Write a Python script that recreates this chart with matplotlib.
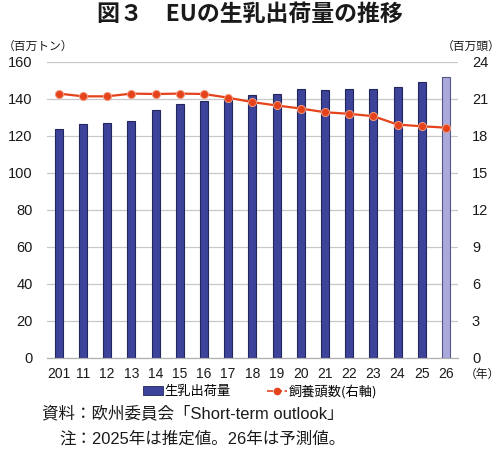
import matplotlib
matplotlib.use("Agg")
import matplotlib.pyplot as plt
from matplotlib.patches import Patch
from matplotlib.lines import Line2D

years = ["201", "11", "12", "13", "14", "15", "16", "17", "18", "19", "20",
         "21", "22", "23", "24", "25", "26"]
milk = [123.4, 126.4, 127.1, 127.8, 133.8, 137.3, 138.5, 140.5, 142.2, 142.7,
        145.0, 144.6, 145.0, 145.0, 146.4, 149.1, 151.5]
herd = [21.41, 21.19, 21.19, 21.41, 21.38, 21.41, 21.38, 21.08, 20.72, 20.45,
        20.20, 19.90, 19.77, 19.58, 18.90, 18.76, 18.65]
left_ticks = [0, 20, 40, 60, 80, 100, 120, 140, 160]
right_ticks = [0, 3, 6, 9, 12, 15, 18, 21, 24]

JP = ["Noto Sans CJK JP", "DejaVu Sans"]
MIX = ["Liberation Sans", "Noto Sans CJK JP", "DejaVu Sans"]
NUM = ["Liberation Sans", "DejaVu Sans"]
NAVY = "#3d4398"
EDGE = "#23265e"
LIGHT = "#a9a9dc"
RED = "#e5431b"
TXT = "#1a1a1a"

fig = plt.figure(figsize=(5.0, 4.51), dpi=100)
ax = fig.add_axes([0.0934, 0.2073, 0.8226, 0.6559])
ax2 = ax.twinx()

x = list(range(len(years)))
colors = [NAVY] * (len(years) - 1) + [LIGHT]
bars = ax.bar(x, milk, width=0.33, color=colors, edgecolor=EDGE, linewidth=0.8, zorder=2)
bars[-1].set_edgecolor("#8585bd")
bars[-1].set_hatch(":")
bars[-1].set_linewidth(0)
# outline for the forecast bar
ax.bar(x[-1:], milk[-1:], width=0.33, facecolor="none", edgecolor="#555588",
       linewidth=0.8, zorder=2.1)

ax2.plot(x, herd, color=RED, linewidth=1.6, marker="o", markersize=5.8,
         markerfacecolor=RED, markeredgecolor="#f39a7c", markeredgewidth=0.7, zorder=3)

ax.set_xlim(-0.5, 16.5)
ax.set_ylim(0, 160)
ax2.set_ylim(0, 24)
ax.set_yticks(left_ticks)
ax2.set_yticks(right_ticks)
ax.set_xticks(x)
ax.set_xticklabels(years)
ax.grid(axis="y", color="#c8c8c8", linewidth=0.9, zorder=0)
ax.set_axisbelow(True)

for a in (ax, ax2):
    for s in ("top", "left", "right"):
        a.spines[s].set_visible(False)
    a.spines["bottom"].set_color("#b0b0b0")
    a.tick_params(length=0)
ax.tick_params(axis="y", labelsize=10.5, labelcolor=TXT, pad=10)
ax.tick_params(axis="x", labelsize=10, labelcolor=TXT, pad=7)
ax2.tick_params(axis="y", labelsize=10.5, labelcolor=TXT, pad=10)
for lab in ax.get_xticklabels() + ax.get_yticklabels() + ax2.get_yticklabels():
    lab.set_family(NUM)

fig.text(0.5, 0.968, "図３　EUの生乳出荷量の推移", family=JP, fontsize=16.5,
         fontweight="bold", ha="center", va="center", color=TXT)
fig.text(0.006, 0.898, "（百万トン）", family=JP, fontsize=8.5, ha="left", va="center", color=TXT)
fig.text(1.0, 0.898, "（百万頭）", family=JP, fontsize=8.5, ha="right", va="center", color=TXT)
fig.text(1.0, 0.169, "（年）", family=JP, fontsize=8.5, ha="right", va="center", color=TXT)

handles = [Patch(facecolor=NAVY, edgecolor=EDGE, linewidth=0.6),
           Line2D([0], [0], color=RED, linewidth=1.2, linestyle="--", marker="o",
                  markersize=4.5, markerfacecolor=RED, markeredgecolor=RED)]
leg = fig.legend(handles, ["生乳出荷量", "飼養頭数(右軸)"], loc="center",
                 bbox_to_anchor=(0.52, 0.132), ncol=2, frameon=False,
                 prop={"family": JP, "size": 9.5}, handlelength=1.5,
                 handletextpad=0.1, columnspacing=2.8)

fig.text(0.085, 0.083, "資料：欧州委員会「Short-term outlook」", family=MIX,
         fontsize=11.9, ha="left", va="center", color=TXT)
fig.text(0.118, 0.027, "注：2025年は推定値。26年は予測値。", family=MIX,
         fontsize=11.9, ha="left", va="center", color=TXT)

fig.savefig("out.png", dpi=100)
